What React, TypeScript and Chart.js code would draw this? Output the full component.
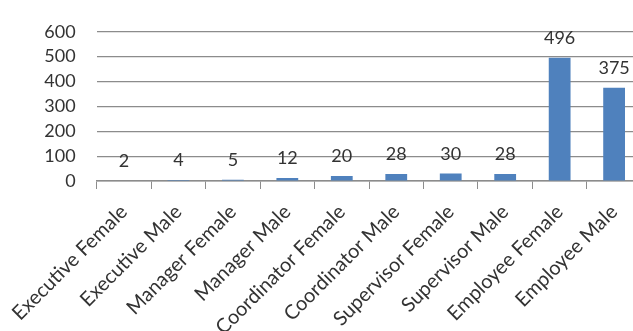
import React, { useEffect, useRef } from "react";
import { Chart, registerables } from "chart.js";

Chart.register(...registerables);

const categories = [
  "Executive Female",
  "Executive Male",
  "Manager Female",
  "Manager Male",
  "Coordinator Female",
  "Coordinator Male",
  "Supervisor Female",
  "Supervisor Male",
  "Employee Female",
  "Employee Male",
];
const counts = [2, 4, 5, 12, 20, 28, 30, 28, 496, 375];
const yTicks = [0, 100, 200, 300, 400, 500, 600];

const FONT = "Lato";
const TEXT = "#333333";
const GRID = "#8c8c8c";

const labelPlugin = {
  id: "valueLabels",
  afterDatasetsDraw(chart: any) {
    const ctx = chart.ctx;
    const meta = chart.getDatasetMeta(0);
    ctx.save();
    ctx.font = `18px ${FONT}`;
    ctx.fillStyle = TEXT;
    ctx.textAlign = "center";
    ctx.textBaseline = "alphabetic";
    meta.data.forEach((bar: any, i: number) => {
      ctx.fillText(String(counts[i]), bar.x, bar.y - 14);
    });
    ctx.restore();
  },
};

export default function App() {
  const ref = useRef<HTMLCanvasElement>(null);
  useEffect(() => {
    const chart = new Chart(ref.current!, {
      type: "bar",
      data: {
        labels: categories,
        datasets: [
          {
            data: counts,
            backgroundColor: "#4F81BD",
            borderWidth: 0,
            barPercentage: 0.4,
            categoryPercentage: 1,
          },
        ],
      },
      plugins: [labelPlugin],
      options: {
        responsive: false,
        animation: false,
        layout: { padding: { top: 18, left: 0, right: 0, bottom: 0 } },
        plugins: { legend: { display: false }, tooltip: { enabled: false } },
        scales: {
          x: {
            offset: true,
            grid: {
              display: true,
              offset: true,
              drawOnChartArea: false,
              drawTicks: true,
              tickLength: 8,
              color: GRID,
            },
            border: { display: true, color: GRID, width: 1.5 },
            ticks: {
              minRotation: 45,
              maxRotation: 45,
              autoSkip: false,
              color: TEXT,
              font: { family: FONT, size: 20 },
              padding: 11,
            },
            afterFit: (scale: any) => {
              scale.height = 150;
            },
          },
          y: {
            min: 0,
            max: 600,
            afterBuildTicks: (scale: any) => {
              scale.ticks = yTicks.map((v) => ({ value: v }));
            },
            grid: { color: GRID, drawTicks: false, lineWidth: 1.2 },
            border: { display: false },
            ticks: {
              color: TEXT,
              font: { family: FONT, size: 18 },
              padding: 21,
            },
            afterFit: (scale: any) => {
              scale.width = 95;
            },
          },
        },
      },
    });
    return () => chart.destroy();
  }, []);
  return (
    <div
      style={{
        position: "absolute",
        left: 0,
        top: 0,
        width: 633,
        height: 331,
        overflow: "hidden",
        background: "#fff",
      }}
    >
      <canvas ref={ref} width={642} height={331} style={{ display: "block" }} />
    </div>
  );
}
